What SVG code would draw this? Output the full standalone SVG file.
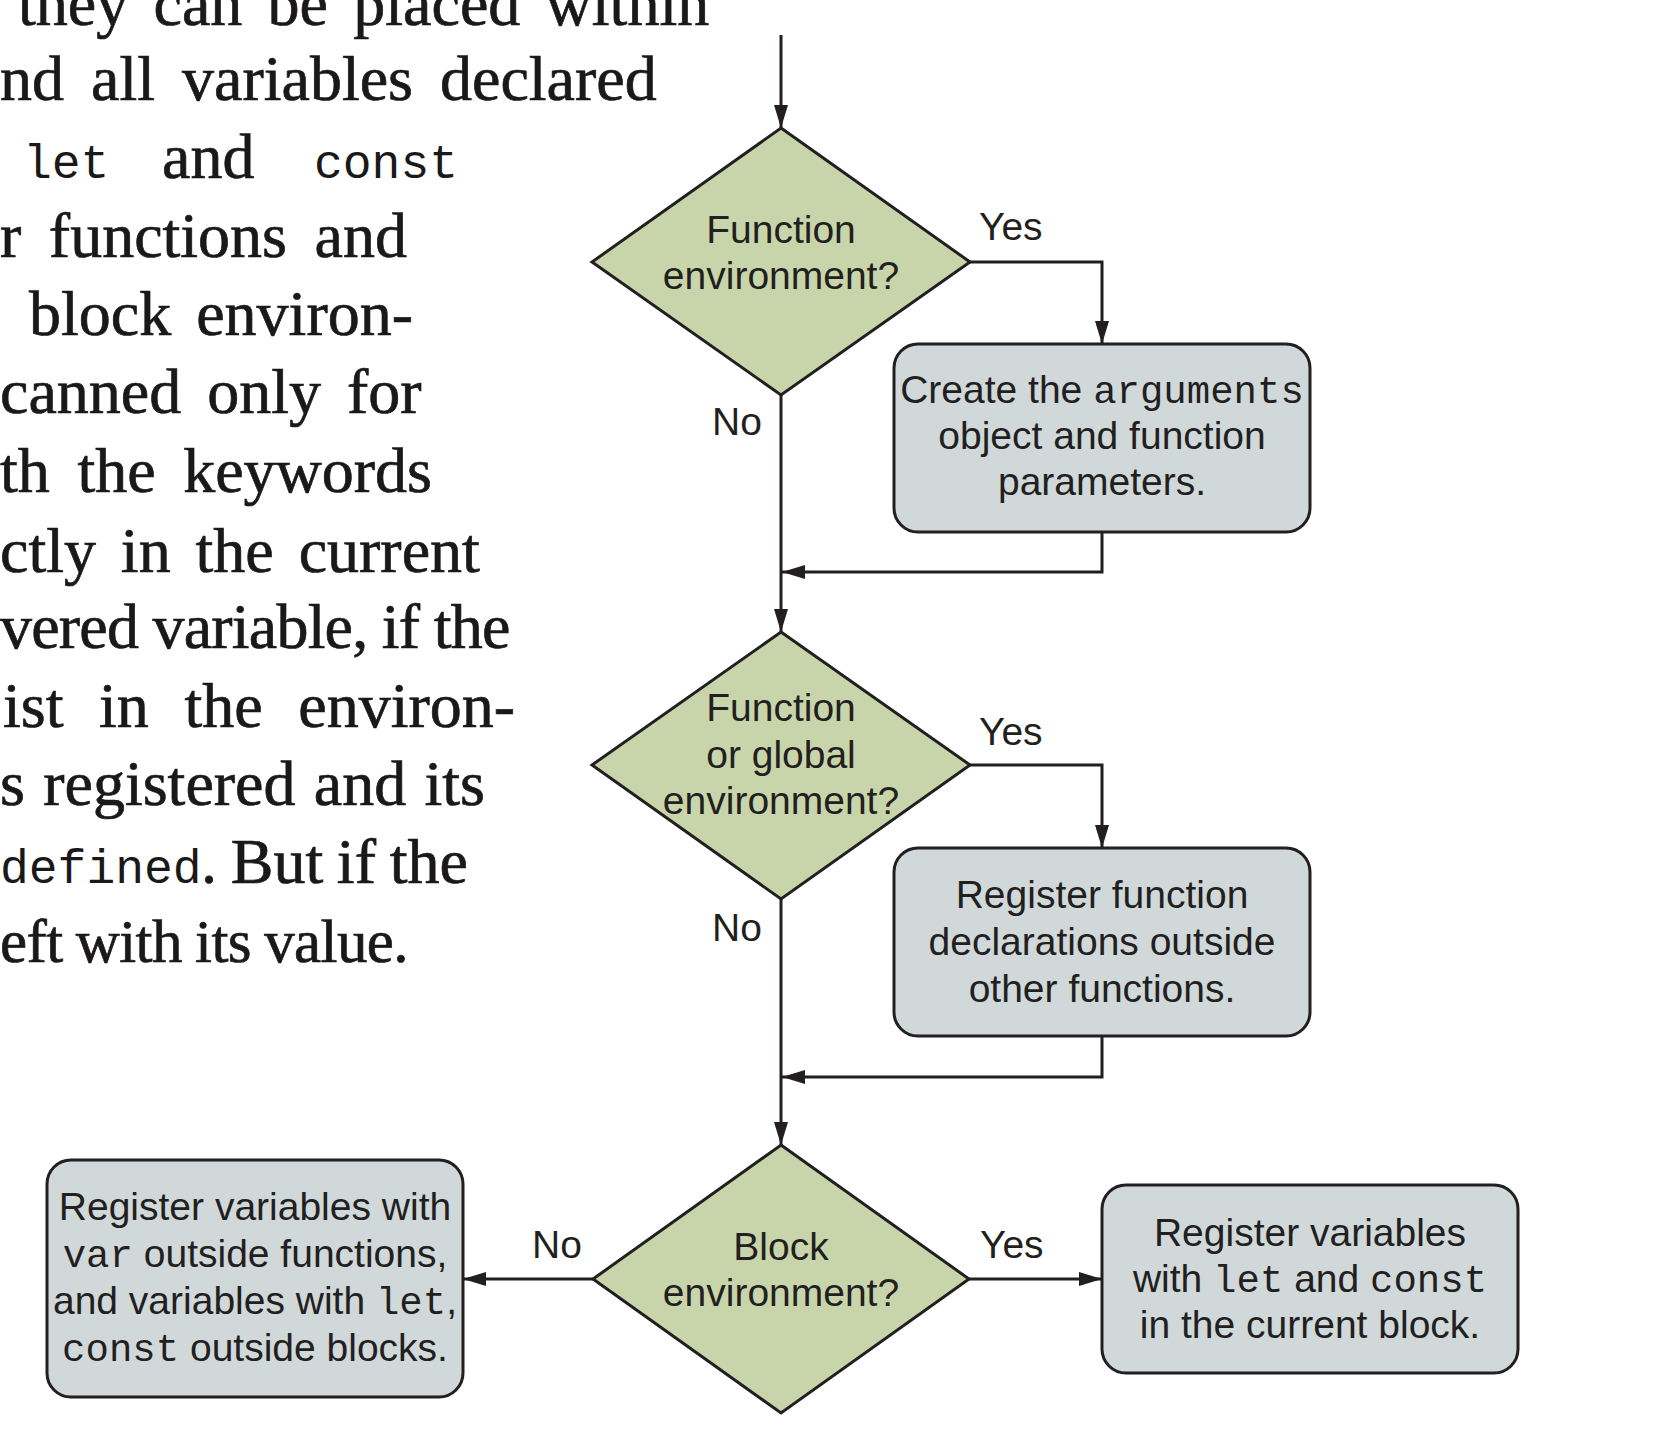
<svg xmlns="http://www.w3.org/2000/svg" width="1654" height="1432" viewBox="0 0 1654 1432">
<style>
.bg{fill:#ffffff}
.para{font-family:"Liberation Serif","Times New Roman",serif;font-size:64px;fill:#1a1818;stroke:#1a1818;stroke-width:0.7px}
.pmono{font-family:"Liberation Mono","Courier New",monospace;font-size:48px;fill:#1a1818}
.lbl{font-family:"Liberation Sans",Arial,Helvetica,sans-serif;font-size:39px;fill:#231f20}
.ctr{text-anchor:middle}
.mono{font-family:"Liberation Mono","Courier New",monospace;font-size:39px}
.dia{fill:#c8d5aa;stroke:#231f20;stroke-width:3;stroke-linejoin:miter}
.box{fill:#d0d8da;stroke:#231f20;stroke-width:3}
.con{fill:none;stroke:#231f20;stroke-width:3;marker-end:url(#arr)}
</style>
<defs>
<marker id="arr" markerUnits="userSpaceOnUse" markerWidth="24" markerHeight="14" refX="23" refY="7" orient="auto">
<path d="M0,0 L23,7 L0,14 z" fill="#231f20"/>
</marker>
</defs>
<rect class="bg" x="0" y="0" width="1654" height="1432"/>

<g id="paragraph">
<text class="para" x="18" y="25" style="word-spacing:9.3px">they can be placed within</text>
<text class="para" x="0" y="100" style="word-spacing:11px">nd all variables declared</text>
<text class="pmono" x="23" y="178">let</text>
<text class="para" x="162" y="178">and</text>
<text class="pmono" x="314" y="178">const</text>
<text class="para" x="0" y="257" style="word-spacing:11.5px">r functions and</text>
<text class="para" x="29" y="335" style="word-spacing:9px">block environ-</text>
<text class="para" x="0" y="413" style="word-spacing:10px">canned only for</text>
<text class="para" x="0" y="492" style="word-spacing:11.6px">th the keywords</text>
<text class="para" x="0" y="572" style="word-spacing:8.9px">ctly in the current</text>
<text class="para" x="0" y="648" style="letter-spacing:-0.8px;word-spacing:-0.8px">vered variable, if the</text>
<text class="para" x="3" y="727" style="word-spacing:19.6px">ist in the environ-</text>
<text class="para" x="0" y="805" style="word-spacing:2.3px">s registered and its</text>
<text class="pmono" x="0" y="883">defined</text>
<text class="para" x="201" y="883" style="word-spacing:-2.3px">. But if the</text>
<text class="para" x="0" y="962" style="font-size:61px;letter-spacing:-0.6px;word-spacing:-1.4px">eft with its value.</text>
</g>

<g id="connectors">
<polyline class="con" points="781,35 781,128"/>
<polyline class="con" points="970,262 1102,262 1102,344"/>
<polyline class="con" points="1102,532 1102,572 782,572"/>
<polyline class="con" points="781,395 781,632"/>
<polyline class="con" points="970,765 1102,765 1102,848"/>
<polyline class="con" points="1102,1036 1102,1077 782,1077"/>
<polyline class="con" points="781,899 781,1145"/>
<polyline class="con" points="593,1279 463,1279"/>
<polyline class="con" points="969,1279 1102,1279"/>
<text class="lbl" x="979" y="240">Yes</text>
<text class="lbl" x="712" y="435">No</text>
<text class="lbl" x="979" y="745">Yes</text>
<text class="lbl" x="712" y="941">No</text>
<text class="lbl" x="532" y="1258">No</text>
<text class="lbl" x="980" y="1258">Yes</text>
</g>

<g id="d1">
<polygon class="dia" points="781,128 970,262 781,395 592,262"/>
<text class="lbl ctr" x="781" y="243">Function</text>
<text class="lbl ctr" x="781" y="289">environment?</text>
</g>

<g id="box1">
<rect class="box" x="894" y="344" width="416" height="188" rx="24" ry="24"/>
<text class="lbl ctr" x="1102" y="403">Create the <tspan class="mono">arguments</tspan></text>
<text class="lbl ctr" x="1102" y="449">object and function</text>
<text class="lbl ctr" x="1102" y="495">parameters.</text>
</g>

<g id="d2">
<polygon class="dia" points="781,632 970,765 781,899 592,765"/>
<text class="lbl ctr" x="781" y="721">Function</text>
<text class="lbl ctr" x="781" y="768">or global</text>
<text class="lbl ctr" x="781" y="814">environment?</text>
</g>

<g id="box2">
<rect class="box" x="894" y="848" width="416" height="188" rx="24" ry="24"/>
<text class="lbl ctr" x="1102" y="908">Register function</text>
<text class="lbl ctr" x="1102" y="955">declarations outside</text>
<text class="lbl ctr" x="1102" y="1002">other functions.</text>
</g>

<g id="d3">
<polygon class="dia" points="781,1145 969,1279 781,1413 593,1279"/>
<text class="lbl ctr" x="781" y="1260">Block</text>
<text class="lbl ctr" x="781" y="1306">environment?</text>
</g>

<g id="box-left">
<rect class="box" x="47" y="1160" width="416" height="237" rx="24" ry="24"/>
<text class="lbl ctr" x="255" y="1220">Register variables with</text>
<text class="lbl ctr" x="255" y="1267"><tspan class="mono">var</tspan> outside functions,</text>
<text class="lbl ctr" x="255" y="1314">and variables with <tspan class="mono">let</tspan>,</text>
<text class="lbl ctr" x="255" y="1361"><tspan class="mono">const</tspan> outside blocks.</text>
</g>

<g id="box-right">
<rect class="box" x="1102" y="1185" width="416" height="188" rx="24" ry="24"/>
<text class="lbl ctr" x="1310" y="1246">Register variables</text>
<text class="lbl ctr" x="1310" y="1292">with <tspan class="mono">let</tspan> and <tspan class="mono">const</tspan></text>
<text class="lbl ctr" x="1310" y="1338">in the current block.</text>
</g>
</svg>
